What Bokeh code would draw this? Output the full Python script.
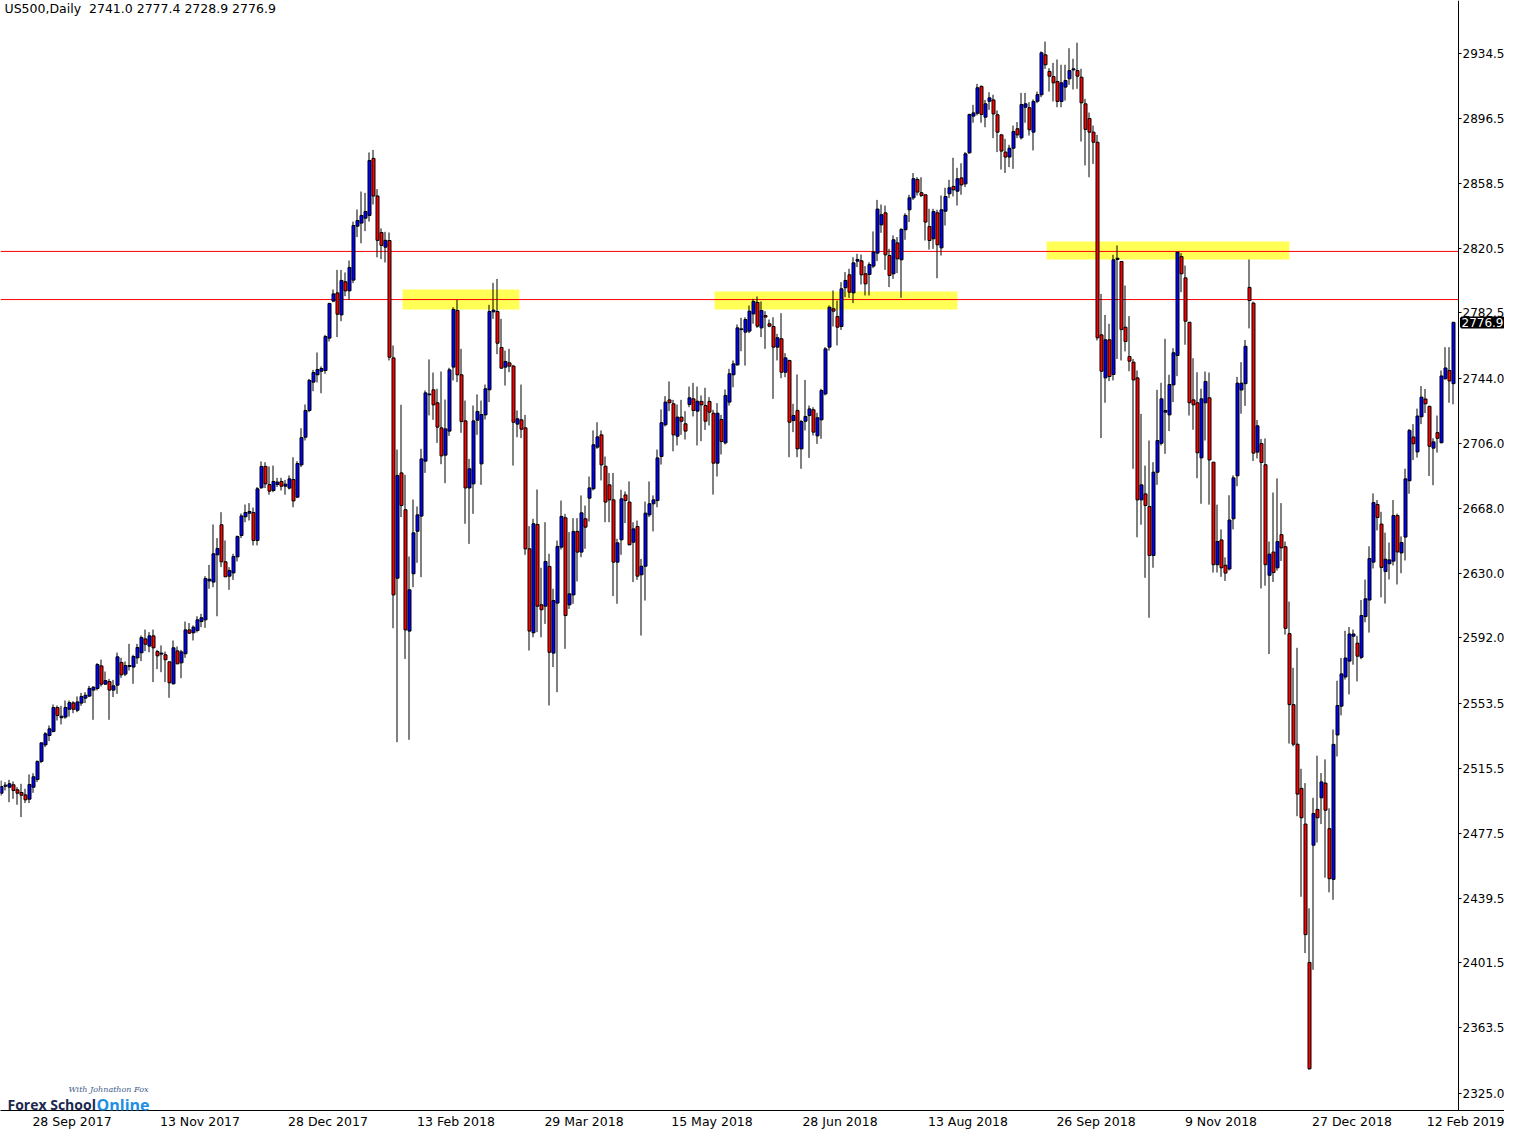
from bokeh.plotting import figure
from bokeh.models import Range1d, FixedTicker, PrintfTickFormatter, Label, ColumnDataSource
from bokeh.embed import file_html
from bokeh.resources import INLINE

# ---------------- data (daily OHLC, one entry per bar) ----------------
opens = [2501.0,2505.1,2504.5,2505.9,2503.0,2501.4,2500.0,2497.5,2504.5,2509.0,
2519.6,2529.3,2534.8,2537.2,2551.2,2545.2,2545.6,2550.2,2553.9,2549.6,
2553.8,2556.7,2557.9,2561.4,2562.4,2575.6,2564.9,2566.4,2561.4,2564.3,
2577.6,2570.8,2575.3,2574.9,2580.3,2583.3,2591.4,2587.2,2593.2,2584.0,
2582.5,2582.1,2578.0,2565.1,2584.4,2577.4,2582.7,2596.7,2595.0,2596.3,
2601.6,2602.6,2625.4,2624.7,2640.7,2658.3,2636.6,2628.2,2630.1,2639.5,
2652.0,2663.0,2665.1,2665.5,2649.1,2680.0,2692.5,2681.9,2678.4,2681.9,
2683.7,2680.9,2679.8,2684.8,2674.5,2693.4,2709.6,2725.3,2741.9,2746.2,
2748.3,2748.7,2767.7,2789.4,2794.2,2781.3,2800.7,2795.4,2801.7,2833.3,
2835.1,2838.0,2839.6,2873.0,2851.0,2829.6,2821.0,2824.9,2756.1,2627.0,
2688.7,2667.1,2596.0,2629.6,2654.5,2663.4,2695.6,2734.5,2737.4,2729.8,
2715.1,2699.1,2713.2,2750.7,2783.9,2746.2,2719.2,2679.9,2682.3,2719.6,
2694.0,2722.7,2737.4,2783.1,2783.3,2762.2,2750.7,2753.2,2751.3,2717.3,
2719.8,2715.1,2644.2,2595.0,2658.5,2611.4,2610.6,2633.9,2583.1,2612.4,
2645.2,2662.4,2611.4,2617.2,2654.4,2642.3,2661.8,2673.9,2679.4,2703.8,
2711.0,2692.6,2681.7,2672.9,2636.4,2649.5,2675.8,2671.6,2648.1,2657.3,
2629.0,2634.0,2664.1,2670.6,2672.5,2698.3,2716.9,2731.5,2729.2,2710.2,
2721.4,2717.5,2728.8,2732.1,2724.9,2730.6,2728.2,2730.6,2723.7,2694.4,
2720.0,2706.3,2730.2,2746.2,2752.0,2772.7,2771.2,2771.8,2781.9,2788.6,
2773.7,2780.9,2776.1,2774.5,2762.4,2767.3,2747.7,2754.6,2719.4,2725.3,
2702.8,2719.0,2722.3,2725.7,2710.4,2719.8,2735.0,2762.4,2784.9,2780.4,
2774.5,2797.2,2804.8,2794.2,2812.8,2813.0,2805.4,2805.0,2809.9,2817.5,
2834.1,2841.1,2816.1,2805.4,2823.5,2813.6,2831.2,2842.9,2849.9,2860.7,
2852.9,2851.7,2833.1,2825.9,2841.1,2820.6,2842.1,2852.3,2856.6,2853.8,
2861.6,2858.1,2876.3,2897.8,2899.5,2915.2,2897.2,2906.5,2907.3,2898.6,
2886.8,2876.7,2873.8,2879.0,2890.4,2885.1,2903.0,2902.7,2888.4,2906.5,
2910.3,2933.7,2924.0,2921.0,2918.1,2906.4,2914.8,2919.7,2924.9,2924.5,
2920.6,2905.0,2896.4,2888.4,2882.5,2769.6,2744.4,2766.7,2746.4,2813.8,
2812.6,2774.1,2756.9,2753.6,2744.4,2672.9,2676.4,2669.0,2640.3,2689.1,
2706.1,2724.3,2722.7,2740.3,2757.5,2815.5,2803.0,2777.0,2731.5,2729.8,
2697.5,2729.8,2732.7,2695.0,2634.9,2649.4,2634.6,2632.4,2661.8,2687.0,
2737.3,2741.0,2797.4,2788.2,2700.9,2705.9,2693.5,2628.7,2642.3,2633.1,
2652.5,2645.4,2594.5,2552.9,2529.7,2503.8,2482.9,2401.8,2470.5,2491.5,
2498.3,2506.9,2480.2,2450.5,2535.1,2552.0,2569.1,2578.4,2593.0,2588.9,
2580.6,2604.5,2614.2,2636.4,2670.2,2658.7,2630.9,2635.5,2637.0,2663.7,
2641.8,2651.1,2684.1,2709.7,2701.0,2721.6,2732.0,2727.7,2703.2,2712.3,
2706.4,2743.9,2748.7,2741.0]

highs = [2508.4,2507.5,2508.8,2507.9,2504.5,2506.5,2503.6,2512.0,2512.7,2520.2,
2530.5,2536.8,2540.7,2553.0,2552.4,2552.2,2555.3,2555.3,2554.9,2557.7,
2559.8,2560.2,2563.9,2563.7,2577.2,2579.3,2572.3,2568.0,2567.4,2583.4,
2580.3,2578.2,2588.5,2582.1,2588.5,2593.4,2596.9,2595.4,2596.9,2585.0,
2587.6,2584.0,2578.0,2590.5,2587.0,2585.0,2601.6,2600.7,2599.3,2604.7,
2606.1,2628.2,2634.8,2658.5,2650.5,2665.7,2649.1,2633.5,2641.3,2652.0,
2664.9,2670.2,2671.0,2668.4,2680.4,2695.4,2695.0,2692.5,2693.0,2685.8,
2685.8,2684.6,2687.2,2697.9,2695.6,2714.9,2728.8,2743.8,2749.1,2759.3,
2751.1,2769.6,2788.4,2796.2,2807.7,2807.7,2806.2,2813.2,2836.0,2843.1,
2853.6,2852.8,2876.5,2878.0,2855.0,2832.0,2830.0,2829.6,2763.4,2702.4,
2728.6,2687.6,2639.7,2673.1,2669.0,2702.8,2737.0,2755.2,2747.5,2738.0,
2748.1,2731.7,2750.3,2785.8,2790.1,2761.4,2731.1,2696.9,2728.2,2734.7,
2731.1,2740.5,2787.2,2800.1,2802.4,2779.0,2760.4,2761.4,2752.0,2725.3,
2740.5,2722.7,2657.5,2661.8,2679.0,2633.1,2659.8,2641.3,2620.8,2649.1,
2672.5,2664.7,2654.0,2662.2,2662.2,2675.5,2669.6,2686.6,2713.6,2718.4,
2713.6,2698.3,2688.7,2688.7,2650.1,2678.8,2677.8,2683.7,2659.8,2660.8,
2638.3,2671.9,2683.7,2675.5,2702.4,2725.9,2733.7,2742.3,2731.5,2728.8,
2731.5,2724.9,2739.3,2741.5,2739.3,2734.1,2738.6,2733.1,2725.7,2729.6,
2722.7,2737.6,2749.7,2754.6,2775.7,2779.6,2779.9,2786.8,2790.7,2792.1,
2789.2,2783.5,2778.6,2779.9,2770.2,2782.3,2758.9,2755.0,2729.2,2746.4,
2719.8,2743.2,2728.2,2727.2,2723.9,2738.0,2762.4,2786.8,2795.6,2789.7,
2800.5,2806.4,2808.3,2815.1,2817.1,2816.7,2809.9,2812.2,2830.2,2848.7,
2846.0,2845.4,2820.0,2827.9,2826.9,2832.1,2840.9,2851.7,2864.4,2862.0,
2862.0,2851.7,2843.5,2843.5,2842.9,2851.3,2855.8,2860.5,2873.4,2867.5,
2870.2,2876.7,2899.1,2904.4,2916.7,2915.8,2907.3,2911.8,2910.3,2901.1,
2887.4,2884.5,2881.0,2892.3,2894.3,2911.4,2911.4,2906.0,2907.6,2912.2,
2935.7,2941.5,2925.9,2929.0,2931.0,2927.9,2927.9,2937.6,2931.4,2940.8,
2925.5,2907.9,2899.9,2892.3,2886.8,2793.6,2781.3,2776.1,2816.5,2822.0,
2812.6,2798.5,2780.6,2755.5,2748.7,2723.3,2693.0,2707.7,2695.0,2737.4,
2741.5,2767.3,2746.2,2761.8,2818.5,2817.5,2810.2,2777.0,2755.9,2747.7,
2738.0,2748.1,2747.5,2695.0,2670.1,2655.6,2639.2,2675.6,2687.3,2745.0,
2753.6,2766.6,2813.8,2789.1,2719.7,2708.6,2708.9,2648.5,2677.2,2685.5,
2671.0,2648.5,2613.3,2574.5,2586.2,2515.3,2506.9,2433.5,2498.3,2523.0,
2512.8,2520.8,2492.1,2538.3,2566.9,2580.2,2596.2,2598.4,2596.9,2593.2,
2614.2,2626.2,2645.7,2676.7,2672.8,2665.9,2653.7,2647.9,2672.8,2664.8,
2651.5,2691.2,2714.4,2717.3,2726.4,2739.6,2737.9,2728.1,2709.0,2722.3,
2748.7,2762.4,2762.4,2777.4]

lows = [2499.6,2502.6,2495.7,2497.7,2494.2,2487.0,2495.2,2495.2,2501.2,2507.5,
2518.6,2528.0,2531.5,2536.6,2543.6,2541.3,2544.6,2545.9,2547.9,2548.5,
2552.2,2553.8,2557.3,2544.0,2561.2,2563.5,2564.5,2544.0,2557.3,2559.2,
2568.6,2569.6,2572.9,2565.1,2576.8,2578.4,2584.2,2583.6,2566.1,2573.7,
2571.9,2566.1,2556.9,2564.7,2576.8,2568.4,2580.3,2594.4,2590.5,2595.2,
2598.3,2597.9,2620.8,2621.7,2604.7,2633.5,2627.8,2620.2,2626.0,2636.8,
2650.5,2659.8,2660.8,2646.2,2646.2,2679.4,2679.8,2675.9,2677.4,2680.4,
2678.4,2675.9,2679.0,2668.6,2673.9,2692.1,2707.7,2724.3,2736.6,2741.7,
2735.4,2746.8,2765.7,2788.8,2768.3,2777.6,2792.3,2790.1,2799.9,2826.9,
2823.3,2830.4,2836.0,2846.0,2815.0,2814.0,2812.0,2754.6,2597.7,2530.9,
2662.8,2579.7,2532.3,2621.7,2636.0,2627.6,2688.7,2722.4,2719.8,2706.3,
2693.8,2682.7,2710.4,2742.9,2741.9,2712.2,2658.9,2647.1,2664.7,2711.0,
2681.7,2720.0,2730.2,2779.0,2758.3,2749.7,2739.9,2747.7,2693.0,2709.6,
2709.1,2640.7,2584.6,2592.4,2595.4,2592.4,2600.2,2552.4,2574.9,2560.2,
2643.8,2585.6,2609.0,2612.0,2625.1,2639.3,2644.2,2660.2,2678.4,2702.8,
2684.3,2659.8,2659.8,2616.5,2612.0,2640.7,2659.3,2646.2,2624.7,2626.0,
2593.4,2613.9,2662.8,2654.4,2668.6,2693.6,2715.9,2724.9,2701.4,2704.8,
2711.0,2708.3,2727.2,2721.8,2704.8,2707.3,2713.9,2716.5,2676.0,2686.6,
2699.5,2705.4,2728.2,2738.9,2751.6,2760.0,2751.6,2770.6,2776.1,2773.7,
2768.3,2761.4,2774.1,2732.1,2754.6,2744.2,2744.8,2697.9,2712.6,2697.9,
2691.1,2713.6,2697.5,2710.6,2705.7,2708.7,2734.1,2760.4,2774.5,2763.4,
2772.5,2791.7,2791.3,2788.2,2809.3,2799.1,2792.7,2792.7,2808.7,2812.8,
2829.4,2807.7,2797.6,2802.4,2805.8,2791.3,2825.3,2835.7,2848.7,2851.3,
2850.3,2824.9,2819.6,2820.0,2802.8,2816.1,2833.7,2849.9,2850.7,2845.4,
2851.7,2856.2,2875.7,2893.9,2898.2,2893.9,2891.3,2901.5,2884.9,2876.7,
2866.5,2864.5,2867.9,2866.9,2884.9,2884.1,2893.9,2886.4,2877.7,2905.4,
2908.9,2925.5,2912.2,2906.4,2903.0,2903.0,2906.9,2916.1,2913.4,2913.8,
2882.9,2868.9,2862.0,2869.8,2766.3,2709.1,2729.8,2742.5,2742.9,2755.5,
2754.6,2759.9,2748.3,2691.1,2651.0,2658.3,2627.2,2603.8,2633.1,2681.7,
2704.8,2699.9,2713.2,2730.2,2745.4,2794.6,2763.8,2722.3,2714.0,2685.6,
2670.6,2707.7,2670.1,2630.3,2630.3,2627.8,2625.4,2631.5,2655.6,2680.9,
2723.4,2728.0,2773.4,2695.7,2697.2,2621.0,2622.6,2582.5,2624.8,2631.5,
2637.1,2593.9,2530.1,2528.5,2487.5,2440.3,2407.3,2338.9,2397.5,2472.1,
2482.9,2451.5,2442.9,2438.5,2522.5,2546.6,2567.6,2558.9,2576.3,2566.5,
2579.5,2601.2,2595.1,2632.7,2655.0,2615.8,2612.1,2626.2,2634.4,2623.3,
2629.9,2637.4,2676.5,2696.2,2697.7,2717.3,2723.8,2686.9,2681.5,2700.6,
2706.0,2743.3,2729.8,2728.9]

closes = [2504.9,2505.7,2506.5,2502.6,2501.0,2499.8,2497.1,2506.1,2510.6,2519.6,
2530.5,2535.8,2538.7,2551.2,2546.5,2546.1,2551.2,2554.1,2550.2,2554.5,
2557.7,2558.4,2562.4,2563.1,2576.4,2564.9,2567.0,2561.4,2563.9,2580.9,
2570.4,2575.8,2575.8,2581.1,2586.4,2592.2,2588.3,2593.2,2586.2,2581.5,
2583.1,2579.2,2565.7,2586.2,2576.8,2583.8,2596.7,2594.8,2598.3,2602.6,
2603.8,2626.8,2626.4,2641.3,2644.4,2636.6,2627.8,2631.5,2639.7,2651.4,
2663.5,2665.5,2666.1,2649.1,2679.4,2692.5,2682.3,2678.0,2683.7,2683.3,
2680.9,2682.1,2685.2,2672.3,2694.2,2709.4,2725.3,2742.9,2747.5,2749.3,
2749.9,2768.6,2788.0,2793.6,2781.7,2801.5,2795.4,2809.1,2833.7,2836.6,
2839.5,2841.9,2871.8,2851.0,2825.0,2822.0,2825.0,2756.5,2617.2,2687.2,
2669.6,2596.7,2620.2,2653.6,2664.1,2696.9,2735.6,2734.9,2728.6,2715.5,
2698.7,2714.5,2749.1,2784.5,2746.2,2718.8,2679.9,2691.1,2719.2,2724.7,
2722.9,2738.0,2783.3,2784.1,2764.7,2750.1,2754.0,2751.3,2718.4,2720.4,
2714.3,2644.2,2596.0,2658.9,2610.6,2608.5,2636.8,2583.6,2613.9,2645.6,
2663.2,2605.1,2617.8,2654.4,2642.3,2665.3,2656.9,2679.9,2705.2,2709.8,
2693.4,2671.6,2672.9,2636.4,2647.7,2673.5,2672.5,2646.6,2655.9,2628.2,
2634.0,2665.1,2670.6,2672.9,2697.5,2718.1,2730.2,2729.8,2711.0,2721.4,
2719.0,2713.2,2732.7,2725.3,2730.7,2728.6,2719.0,2724.3,2694.4,2723.7,
2707.1,2734.1,2746.8,2752.6,2773.7,2773.1,2778.6,2783.5,2789.2,2774.7,
2783.9,2780.0,2774.7,2762.4,2767.9,2747.7,2756.1,2718.4,2722.3,2702.8,
2718.8,2721.8,2726.2,2712.6,2721.0,2737.0,2761.4,2785.8,2783.5,2774.1,
2796.6,2801.5,2794.6,2811.8,2813.8,2804.8,2799.5,2810.8,2818.1,2843.3,
2840.0,2816.5,2804.4,2825.3,2814.2,2831.4,2839.6,2849.9,2861.1,2853.3,
2851.3,2835.7,2824.9,2841.9,2822.4,2842.9,2850.7,2855.8,2854.6,2861.1,
2857.5,2875.7,2898.8,2899.7,2914.4,2898.8,2905.0,2908.5,2899.1,2888.4,
2877.3,2873.8,2879.0,2888.8,2886.8,2904.6,2905.0,2889.8,2906.4,2910.4,
2934.9,2927.9,2921.2,2917.3,2906.4,2917.3,2918.7,2924.5,2925.5,2921.2,
2905.6,2890.0,2888.4,2882.5,2767.9,2748.3,2766.7,2745.2,2813.6,2814.5,
2772.7,2765.7,2754.2,2743.2,2672.9,2681.7,2669.6,2640.3,2689.1,2707.7,
2732.1,2725.3,2740.5,2759.1,2818.1,2805.4,2777.6,2729.8,2728.6,2700.5,
2732.1,2742.3,2696.3,2634.9,2648.5,2633.1,2630.0,2661.1,2685.8,2741.3,
2741.3,2762.9,2789.7,2700.3,2716.3,2694.8,2634.9,2641.1,2630.3,2648.5,
2644.8,2597.6,2552.9,2529.7,2500.5,2486.6,2418.1,2339.5,2489.1,2486.6,
2507.6,2491.0,2450.9,2529.6,2552.4,2570.9,2580.2,2594.3,2594.3,2581.3,
2605.1,2614.9,2638.5,2671.3,2662.6,2633.3,2638.1,2637.7,2663.7,2642.4,
2647.9,2685.2,2713.6,2705.8,2722.0,2733.1,2729.2,2704.3,2706.9,2709.0,
2745.5,2750.2,2742.6,2776.9]

price_ticks = [2325.0, 2363.5, 2401.5, 2439.5, 2477.5, 2515.5, 2553.5, 2592.0, 2630.0,
               2668.0, 2706.0, 2744.0, 2782.5, 2820.5, 2858.5, 2896.5, 2934.5]
date_labels = ["28 Sep 2017", "13 Nov 2017", "28 Dec 2017", "13 Feb 2018", "29 Mar 2018",
               "15 May 2018", "28 Jun 2018", "13 Aug 2018", "26 Sep 2018", "9 Nov 2018",
               "27 Dec 2018", "12 Feb 2019"]
date_bars = [7, 39, 71, 103, 135, 167, 199, 231, 263, 295, 327, 359]

level_lines = [2818.5, 2790.3]
zone_start = [100.4, 178.4, 261.4]
zone_end = [129.6, 239.1, 322.1]
zone_low = [2784.5, 2784.5, 2813.8]
zone_high = [2796.2, 2795.0, 2824.3]

symbol = "US500,Daily"
last_ohlc = [2741.0, 2777.4, 2728.9, 2776.9]
last_price = 2776.9

# ---------------- figure ----------------
BULL = "#0000FF"
BEAR = "#FF0000"
FONT = "DejaVu Sans"
FRAME_W, FRAME_H = 1504, 1110
AXIS_PX = 1458            # where the price scale sits inside the canvas
PX_PER_BAR = 4.0
X0 = -0.125
Y_TOP = 2965.56
PX_PER_PT = 1.0 / 0.58606

bars = list(range(len(opens)))
src = ColumnDataSource(dict(
    x=bars, xb=[b + 0.125 for b in bars], o=opens, h=highs, l=lows, c=closes,
    top=[max(a, b) for a, b in zip(opens, closes)],
    bot=[min(a, b) for a, b in zip(opens, closes)],
    col=[BULL if c >= o else BEAR for o, c in zip(opens, closes)],
))

x_end = X0 + FRAME_W / PX_PER_BAR
x_axis_pos = X0 + AXIS_PX / PX_PER_BAR
y_bot = Y_TOP - FRAME_H / PX_PER_PT

p = figure(frame_width=FRAME_W, frame_height=FRAME_H, output_backend="svg", toolbar_location=None,
           x_range=Range1d(X0, x_end), y_range=Range1d(y_bot, Y_TOP),
           y_axis_location="right", min_border_left=0, min_border_top=0,
           min_border_right=0, min_border_bottom=19)
p.outline_line_color = None
p.background_fill_color = "white"
p.border_fill_color = "white"
p.xgrid.visible = False
p.ygrid.visible = False

# support / resistance zones
p.quad(left=zone_start, right=zone_end, bottom=zone_low, top=zone_high,
       fill_color="#FFFF55", line_color=None)
p.segment(x0=[X0] * len(level_lines), y0=level_lines, x1=[x_axis_pos] * len(level_lines),
          y1=level_lines, line_color="#FF0000", line_width=1)

# candles
p.segment(x0="x", y0="l", x1="x", y1="h", source=src, line_color="black", line_width=1)
p.vbar(x="xb", width=0.75, top="top", bottom="bot", source=src,
       fill_color="col", line_color="black", line_width=1)

# right price scale (drawn at a fixed position inside the canvas)
ya = p.yaxis[0]
ya.fixed_location = x_axis_pos
ya.ticker = FixedTicker(ticks=price_ticks)
ya.formatter = PrintfTickFormatter(format="%.1f")
ya.axis_line_color = "black"
ya.major_tick_line_color = "black"
ya.major_tick_out = 3
ya.major_tick_in = 0
ya.minor_tick_line_color = None
ya.major_label_standoff = 1
ya.major_label_text_font = FONT
ya.major_label_text_font_size = "12px"
ya.major_label_text_color = "black"

# bottom date axis (labels start just right of their date bar)
centers = [round((b + (2.5 + 7.4 * len(t) / 2) / PX_PER_BAR) * 4) / 4
           for b, t in zip(date_bars, date_labels)]
xa = p.xaxis[0]
xa.ticker = FixedTicker(ticks=centers)
xa.major_label_overrides = {c: t for c, t in zip(centers, date_labels)}
xa.axis_line_color = "black"
xa.major_tick_out = 0
xa.major_tick_in = 0
xa.minor_tick_line_color = None
xa.major_label_standoff = 3
xa.major_label_text_font = FONT
xa.major_label_text_font_size = "12.5px"
xa.major_label_text_color = "black"

# header
header_text = symbol + "\u00a0 " + " ".join(f"{v:.1f}" for v in last_ohlc)
p.add_layout(Label(x=X0, y=Y_TOP, x_offset=4, text=header_text, text_baseline="top",
                   text_align="left", text_font=FONT, text_font_size="12.5px", text_color="black"))

# current price marker on the scale
p.add_layout(Label(x=x_axis_pos, y=last_price, x_offset=3, text=f"{last_price:.1f}",
                   text_baseline="middle", text_align="left", text_font=FONT,
                   text_font_size="12px", text_color="white",
                   background_fill_color="black", background_fill_alpha=1.0,
                   border_line_color="black", border_line_width=3))

# logo text
logo_y = Y_TOP - 1104 / PX_PER_PT
tag_y = Y_TOP - 1089 / PX_PER_PT
p.add_layout(Label(x=X0, y=logo_y, x_offset=7, text="Forex School", text_baseline="alphabetic",
                   text_align="left", text_font="Open Sans", text_font_style="bold",
                   text_font_size="14px", text_color="#1B2A4E"))
p.add_layout(Label(x=X0, y=logo_y, x_offset=96, text="Online", text_baseline="alphabetic",
                   text_align="left", text_font="Open Sans", text_font_style="bold",
                   text_font_size="16px", text_color="#1E8FE1"))
p.add_layout(Label(x=X0, y=tag_y, x_offset=68, text="With Johnathon Fox", text_baseline="alphabetic",
                   text_align="left", text_font="DejaVu Serif", text_font_style="italic",
                   text_font_size="8px", text_color="#3F5D8A"))

open("out.html", "w").write(file_html(p, INLINE))
